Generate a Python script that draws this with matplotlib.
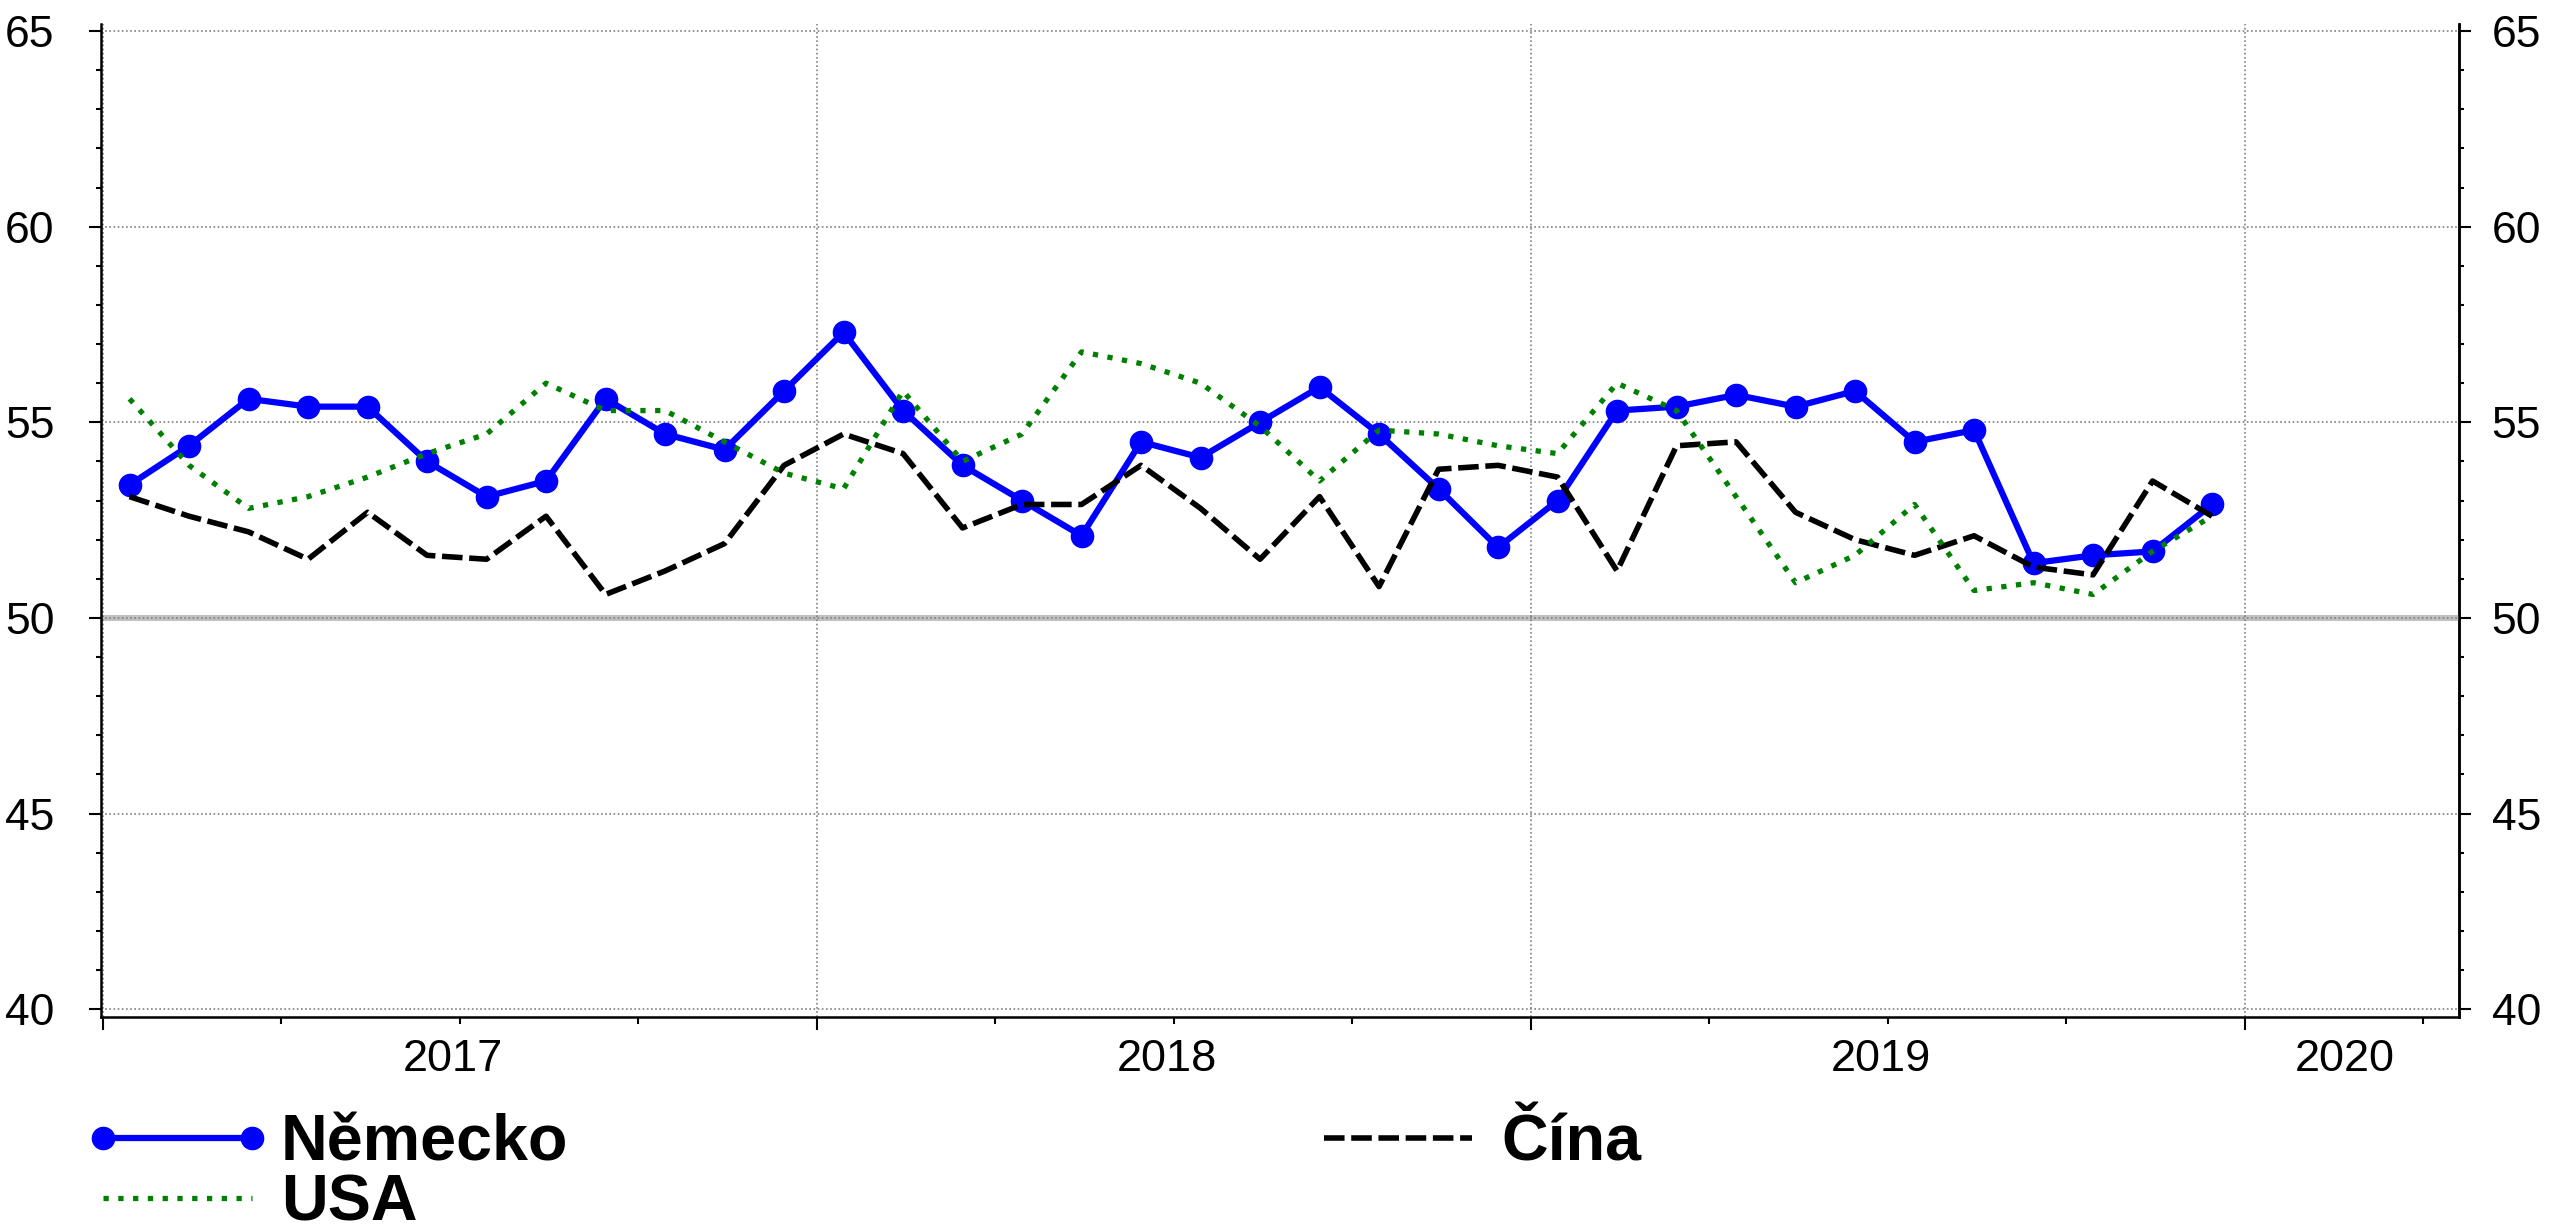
import numpy as np
import matplotlib
matplotlib.use("Agg")
import matplotlib.pyplot as plt
from matplotlib.ticker import MultipleLocator, FixedLocator

# monthly values, Jan 2017 - Dec 2019
years = [2017, 2018, 2019, 2020]
nemecko = [53.4, 54.4, 55.6, 55.4, 55.4, 54.0, 53.1, 53.5, 55.6, 54.7, 54.3, 55.8,
           57.3, 55.3, 53.9, 53.0, 52.1, 54.5, 54.1, 55.0, 55.9, 54.7, 53.3, 51.8,
           53.0, 55.3, 55.4, 55.7, 55.4, 55.8, 54.5, 54.8, 51.4, 51.6, 51.7, 52.9]
usa = [55.6, 53.9, 52.8, 53.1, 53.6, 54.2, 54.7, 56.0, 55.3, 55.3, 54.5, 53.7,
       53.3, 55.8, 54.0, 54.7, 56.8, 56.5, 56.0, 54.9, 53.5, 54.8, 54.7, 54.4,
       54.2, 56.0, 55.3, 53.1, 50.9, 51.6, 52.9, 50.7, 50.9, 50.6, 51.7, 52.6]
cina = [53.1, 52.6, 52.2, 51.5, 52.7, 51.6, 51.5, 52.6, 50.6, 51.2, 51.9, 53.9,
        54.7, 54.2, 52.3, 52.9, 52.9, 53.9, 52.8, 51.5, 53.1, 50.8, 53.8, 53.9,
        53.6, 51.2, 54.4, 54.5, 52.7, 52.0, 51.6, 52.1, 51.3, 51.1, 53.5, 52.6]
labels = ["Německo", "USA", "Čína"]

plt.rcParams["font.family"] = ["Liberation Sans", "DejaVu Sans"]

fig = plt.figure(figsize=(25.6, 12.3), dpi=100)
ax = fig.add_axes([0.03945, 0.17317, 0.92109, 0.80732])

x = np.arange(len(nemecko)) + 0.45
x_max = 39.6

ax.axhline(50, color="#c0c0c0", lw=4.3, zorder=1.5)

h_nem, = ax.plot(x, nemecko, color="#0000ff", lw=4.5, marker="o", ms=16,
                 label=labels[0], zorder=3)
h_cina, = ax.plot(x, cina, color="black", lw=4.0, ls=(0, (3.7, 1.2)),
                  label=labels[2], zorder=4)
h_usa, = ax.plot(x, usa, color="#008000", lw=3.8, ls=(0, (1, 1.8)),
                 label=labels[1], zorder=5)

ax.set_xlim(-0.03, x_max)
ax.set_ylim(39.8, 65.18)

# x axis: long ticks at year starts, short ticks at quarters
year_starts = [12 * i for i in range(len(years))]
quarters = [m for m in range(0, int(x_max) + 1, 3) if m % 12 != 0]
ax.xaxis.set_major_locator(FixedLocator(year_starts))
ax.xaxis.set_minor_locator(FixedLocator(quarters))
ax.tick_params(axis="x", which="major", length=9, width=1.5, labelbottom=False)
ax.tick_params(axis="x", which="minor", length=4.7, width=1.5)

# year labels centred on the visible part of each year
lab_pos = [(max(s, 0) + min(s + 12, x_max)) / 2 - 0.12 for s in year_starts]
ax_lab = ax.secondary_xaxis("bottom")
ax_lab.set_xticks(lab_pos, labels=[str(y) for y in years])
ax_lab.tick_params(length=0, pad=16, labelsize=32.5)
ax_lab.spines["bottom"].set_visible(False)

# y axis both sides
ax.yaxis.set_major_locator(MultipleLocator(5))
ax.yaxis.set_minor_locator(MultipleLocator(1))
ax.tick_params(axis="y", which="major", length=8.6, width=1.5, pad=25, labelsize=32)
ax.tick_params(axis="y", which="minor", length=3.6, width=1.5)

ax_r = ax.secondary_yaxis("right")
ax_r.yaxis.set_major_locator(MultipleLocator(5))
ax_r.yaxis.set_minor_locator(MultipleLocator(1))
ax_r.tick_params(axis="y", which="major", length=8.6, width=1.5, pad=15, labelsize=32)
ax_r.tick_params(axis="y", which="minor", length=3.6, width=1.5)
ax_r.spines["right"].set_linewidth(1.8)

for side in ["left", "bottom", "right"]:
    ax.spines[side].set_linewidth(1.8)
ax.spines["top"].set_visible(False)

ax.grid(True, which="major", color="#808080", lw=1.2, ls=(0, (1, 1.5)), zorder=1)

fig.legend([h_nem, h_usa, h_cina], labels, loc="upper left",
           bbox_to_anchor=(0.0328, 0.095), ncol=2, frameon=False,
           numpoints=2, handlelength=2.9, handletextpad=0.15,
           columnspacing=11.4, labelspacing=0.0, borderpad=0, borderaxespad=0,
           prop={"size": 46.5, "weight": "bold"})

fig.savefig("out.png", dpi=100)
